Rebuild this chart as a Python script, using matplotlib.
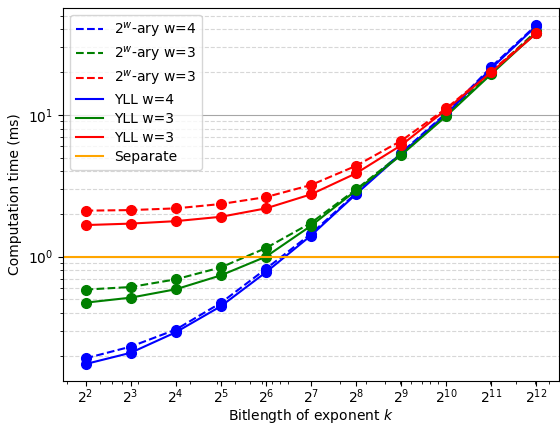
import numpy as np
import matplotlib
matplotlib.use("Agg")
import matplotlib.pyplot as plt
from matplotlib.lines import Line2D

k_exp = [2, 3, 4, 5, 6, 7, 8, 9, 10, 11, 12]
bitlen = [2 ** e for e in k_exp]
xtick_labels = [r"$2^{%d}$" % e for e in k_exp]

wary_w4 = [0.192, 0.232, 0.306, 0.472, 0.82, 1.45, 2.80, 5.40, 10.3, 21.8, 43.0]
wary_w3 = [0.586, 0.611, 0.692, 0.84, 1.15, 1.73, 2.98, 5.30, 10.0, 19.8, 39.0]
wary_w3b = [2.11, 2.13, 2.19, 2.35, 2.63, 3.20, 4.37, 6.56, 11.1, 20.3, 38.0]
yll_w4 = [0.175, 0.210, 0.293, 0.447, 0.776, 1.41, 2.76, 5.30, 10.1, 21.3, 42.4]
yll_w3 = [0.474, 0.514, 0.589, 0.738, 1.00, 1.65, 2.93, 5.20, 9.8, 19.4, 38.0]
yll_w3b = [1.67, 1.71, 1.78, 1.91, 2.19, 2.75, 3.87, 6.10, 10.9, 20.0, 37.5]
separate = 1.0

series = [
    (wary_w4, "--", "blue", r"$2^w$-ary w=4"),
    (wary_w3, "--", "green", r"$2^w$-ary w=3"),
    (wary_w3b, "--", "red", r"$2^w$-ary w=3"),
    (yll_w4, "-", "blue", "YLL w=4"),
    (yll_w3, "-", "green", "YLL w=3"),
    (yll_w3b, "-", "red", "YLL w=3"),
]

fig = plt.figure(figsize=(5.6, 4.24), dpi=100)
ax = fig.add_axes([63 / 560, 1 - 381 / 424, (559 - 63) / 560, (381 - 8) / 424])

handles = []
for vals, ls, col, lab in series:
    ax.plot(bitlen, vals, linestyle=ls, marker="o", markersize=7, color=col)
    handles.append(Line2D([], [], linestyle=ls, color=col, label=lab))
ax.axhline(separate, color="orange")
handles.append(Line2D([], [], color="orange", label="Separate"))

ax.set_xscale("log")
ax.set_yscale("log")
ax.set_xticks(bitlen)
ax.set_xticklabels(xtick_labels)

ax.yaxis.grid(True, which="major", color="gray", linestyle="-", alpha=0.7)
ax.yaxis.grid(True, which="minor", color="lightgray", linestyle="--", alpha=0.9)

ax.set_xlabel(r"Bitlength of exponent $k$", labelpad=0.5)
ax.set_ylabel("Computation time (ms)")
ax.tick_params(axis="x", which="major", pad=1)
ax.legend(handles=handles, loc="upper left", labelspacing=0.37)

fig.savefig("out.png", dpi=100)
